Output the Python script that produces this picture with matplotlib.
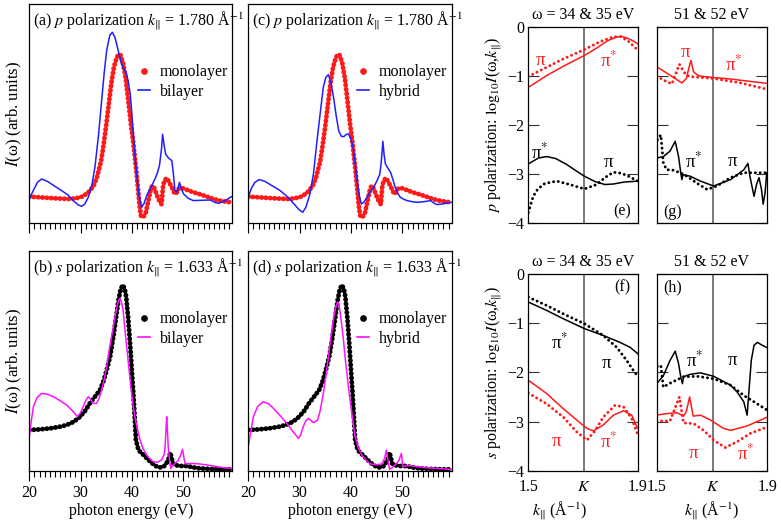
import numpy as np
import matplotlib
matplotlib.use('Agg')
import matplotlib.pyplot as plt
from matplotlib.lines import Line2D
from matplotlib.ticker import MultipleLocator

plt.rcParams['font.family'] = ['Liberation Serif', 'DejaVu Serif']
plt.rcParams['mathtext.fontset'] = 'stix'
plt.rcParams['axes.linewidth'] = 0.9

# ---- spectra, I(omega) in arb. units vs photon energy (eV) ----
mono_p = np.array([(20, 26.7), (22, 26), (24, 25.3), (26, 24.7), (28, 24.3), (29.5, 25.5), (30.5, 27),
                   (31.5, 31), (32.5, 37), (33.2, 46), (34, 62), (34.5, 79), (35, 98), (35.5, 119),
                   (36, 140), (36.5, 156), (37, 165), (37.4, 169), (37.8, 168), (38.3, 160), (38.8, 145),
                   (39.3, 123), (39.8, 100), (40.3, 80), (40.8, 56), (41.2, 35), (41.5, 18), (41.8, 7),
                   (42.2, 6), (42.7, 10), (43.2, 22), (43.7, 34), (44.0, 37.7), (44.4, 35), (44.9, 28),
                   (45.4, 22), (45.8, 19), (46.1, 38), (46.4, 43), (46.8, 45.3), (47.2, 42), (47.8, 36),
                   (48.4, 29.3), (48.8, 31), (49.2, 35), (50, 35), (51, 33), (52, 31), (53.3, 29),
                   (54.5, 27), (55.9, 24.3), (57.2, 22.7), (58.5, 21.5), (59.6, 21)])

bilayer_p = np.array([(20, 24.3), (20.8, 33), (21.6, 41), (22.4, 44.3), (23.5, 42), (25, 37), (26.5, 32),
                      (27.5, 28.5), (28.5, 23), (29.5, 18.5), (30.2, 17), (30.8, 19), (31.5, 26),
                      (32.2, 38), (32.8, 56), (33.5, 88), (34.1, 122), (34.6, 150), (35.1, 173),
                      (35.7, 188), (36.2, 191), (36.7, 186), (37.1, 178), (37.6, 167), (38.0, 159),
                      (38.5, 154), (38.9, 151), (39.3, 142), (39.7, 129), (40.0, 110), (40.3, 89),
                      (40.7, 62), (41.0, 46), (41.4, 28), (41.9, 16), (42.4, 20), (42.9, 27.7),
                      (43.4, 33), (43.9, 37.7), (44.4, 43), (44.9, 49), (45.4, 58), (45.8, 75),
                      (46.0, 89), (46.3, 78), (46.6, 69), (47.2, 65), (47.8, 62.7), (48.1, 50),
                      (48.4, 33), (48.8, 31), (49.3, 41), (49.7, 34), (50.1, 29.3), (51, 25),
                      (52, 22.7), (53.5, 23), (55.3, 23.3), (56.2, 21), (56.9, 20), (58, 22),
                      (59.2, 26), (59.6, 27)])

hybrid_p = np.array([(20, 26), (20.6, 35), (21.3, 41), (22.1, 43.7), (23.2, 42), (24.5, 38), (26.2, 32.7),
                     (27.5, 27), (28.8, 20), (29.8, 14), (30.6, 11), (31.2, 16), (32.0, 29.3), (32.7, 50),
                     (33.3, 79), (34.0, 110), (34.6, 136), (35.1, 146), (35.6, 148.7), (36.1, 140),
                     (36.6, 126), (37.1, 108), (37.6, 92.7), (38.1, 87), (38.6, 86.7), (39.1, 89),
                     (39.5, 89.3), (40.0, 84), (40.4, 76), (40.8, 60), (41.2, 42.7), (41.6, 28),
                     (42.0, 19.3), (42.5, 21), (43.1, 26), (43.7, 31), (44.4, 36), (45.0, 42),
                     (45.6, 49), (45.9, 62), (46.2, 82), (46.45, 68), (46.7, 59.3), (47.2, 55),
                     (47.7, 51), (48.2, 43), (48.6, 36), (49.1, 30), (49.6, 26), (50.3, 24),
                     (50.9, 22.7), (52, 21.5), (52.9, 21), (54, 21.5), (55.5, 22.7), (56.2, 20),
                     (56.8, 18.7), (58, 19.5), (59.6, 21)])

mono_s = np.array([(20, 40.7), (22, 41.3), (24, 42.3), (26, 44), (27.3, 45.7), (28.7, 49), (29.9, 54),
                   (30.9, 60), (31.8, 67.3), (32.8, 74), (33.8, 80.7), (34.5, 90), (35.1, 100.7),
                   (35.8, 115), (36.4, 134), (36.9, 152), (37.4, 170.7), (37.8, 181), (38.2, 185.7),
                   (38.6, 182), (38.9, 174), (39.3, 152), (39.7, 124), (40.0, 100), (40.3, 77.3),
                   (40.6, 50), (40.8, 30.7), (41.3, 20.7), (41.8, 18), (42.3, 15.7), (43.0, 12),
                   (43.6, 9), (44.3, 6), (44.9, 4), (45.5, 3.3), (46.2, 4), (46.7, 7), (47.1, 10.7),
                   (47.5, 18), (47.8, 12), (48.0, 7.3), (48.6, 5.5), (49.4, 4.7), (50.7, 4.7),
                   (52, 3.3), (53.3, 2.3), (55, 1.8), (57, 1.5), (59.6, 1.3)])

bilayer_s = np.array([(20, 34), (20.4, 50), (20.8, 64), (21.5, 73), (22.4, 77.3), (23.5, 76.5), (24.7, 74),
                      (26, 70), (27.3, 65.7), (28.4, 60), (29.4, 54), (30.0, 58), (30.5, 64), (31.0, 70),
                      (31.5, 74), (32.0, 71), (32.4, 67.3), (33.1, 67.3), (33.6, 72), (34.1, 80.7),
                      (34.6, 91), (35.1, 104), (35.7, 124), (36.4, 144), (37.0, 162), (37.4, 170),
                      (37.7, 172.3), (38.0, 168), (38.3, 160.7), (38.6, 144), (39.0, 124), (39.4, 104),
                      (39.8, 84), (40.2, 68), (40.6, 54), (41.1, 41), (41.6, 30.7), (42.2, 22),
                      (42.9, 15.7), (43.5, 12), (44.2, 9), (45.0, 8.5), (45.8, 10.7), (46.3, 16),
                      (46.5, 24), (46.7, 45), (46.8, 54), (46.95, 40), (47.1, 24), (47.4, 8),
                      (47.6, 2.3), (48.0, 5), (48.4, 7.3), (49.0, 10), (49.4, 14), (49.9, 21.3),
                      (50.2, 12), (50.4, 6.7), (51.4, 7.3), (52.5, 7), (53.3, 6.7), (55, 5.5),
                      (56.6, 4), (58, 3), (59.6, 2.3)])

hybrid_s = np.array([(20, 24), (20.5, 40), (21.0, 54), (21.8, 64), (22.9, 69), (23.9, 67), (24.9, 62.3),
                     (26.2, 55), (27.5, 47.3), (28.7, 39), (29.8, 32.3), (30.2, 36), (30.7, 44),
                     (31.2, 50), (31.7, 52.3), (32.2, 50), (32.7, 48), (33.5, 50.7), (34.0, 60),
                     (34.6, 77.3), (35.1, 95), (35.6, 114), (36.1, 134), (36.6, 152.3), (37.0, 163),
                     (37.4, 169), (37.7, 165), (38.0, 154), (38.5, 132), (38.9, 110.7), (39.4, 88),
                     (39.9, 67.3), (40.4, 48), (40.8, 34), (41.4, 23), (42.1, 15.7), (43.0, 10),
                     (43.8, 6.7), (45.0, 6), (46.0, 6.7), (46.5, 12), (46.9, 20.7), (47.2, 10),
                     (47.5, 1.3), (48.0, 3), (48.6, 5.7), (49.3, 10), (49.8, 17.3), (50.1, 4),
                     (50.8, 5), (51.6, 5), (52.8, 4), (54.2, 3.3), (56, 2.5), (58, 1.8), (59.6, 1.3)])

# ---- log10 I(omega, k) vs k_par (1/A) ----
K = 1.703
e_red_line = np.array([(1.5, -1.23), (1.567, -0.99), (1.628, -0.80), (1.705, -0.58), (1.75, -0.43),
                       (1.79, -0.28), (1.82, -0.21), (1.841, -0.19), (1.872, -0.25), (1.9, -0.34)])
e_red_dots = np.array([(1.5, -1.01), (1.567, -0.82), (1.628, -0.65), (1.705, -0.46), (1.762, -0.30),
                       (1.805, -0.21), (1.835, -0.19), (1.866, -0.29), (1.9, -0.47)])
e_blk_line = np.array([(1.5, -2.79), (1.537, -2.67), (1.567, -2.64), (1.6, -2.68), (1.64, -2.80),
                       (1.68, -2.95), (1.705, -3.04), (1.744, -3.15), (1.78, -3.21), (1.81, -3.20),
                       (1.85, -3.16), (1.9, -3.14)])
e_blk_dots = np.array([(1.5, -3.78), (1.518, -3.45), (1.535, -3.30), (1.56, -3.19), (1.604, -3.14),
                       (1.652, -3.21), (1.705, -3.30), (1.75, -3.21), (1.78, -3.07), (1.811, -2.96),
                       (1.84, -2.98), (1.87, -3.05), (1.9, -3.14)])

g_red_line = np.array([(1.5, -0.81), (1.548, -0.98), (1.591, -1.14), (1.607, -1.05), (1.618, -0.80),
                       (1.624, -0.68), (1.633, -0.91), (1.645, -0.97), (1.658, -1.0), (1.706, -1.03),
                       (1.767, -1.06), (1.9, -1.15)])
g_red_dots = np.array([(1.5, -1.0), (1.524, -1.08), (1.555, -1.16), (1.582, -0.76), (1.595, -0.88),
                       (1.605, -0.97), (1.62, -1.01), (1.706, -1.05), (1.803, -1.14), (1.9, -1.27)])
g_blk_line = np.array([(1.5, -2.67), (1.524, -2.64), (1.548, -2.53), (1.567, -2.33), (1.579, -2.64),
                       (1.587, -2.97), (1.591, -3.11), (1.595, -3.01), (1.621, -3.04), (1.658, -3.14),
                       (1.706, -3.24), (1.767, -3.11), (1.815, -2.91), (1.830, -2.78), (1.837, -3.04),
                       (1.852, -3.45), (1.861, -3.21), (1.870, -3.07), (1.879, -3.31), (1.885, -3.61),
                       (1.892, -3.38), (1.898, -2.97), (1.9, -2.97)])
g_blk_dots = np.array([(1.502, -2.30), (1.515, -2.20), (1.524, -2.77), (1.536, -2.91), (1.555, -2.91),
                       (1.585, -2.97), (1.609, -3.04), (1.645, -3.18), (1.682, -3.31), (1.718, -3.24),
                       (1.767, -3.07), (1.815, -2.97), (1.9, -2.97)])

f_blk_line = np.array([(1.5, -0.57), (1.567, -0.74), (1.628, -0.91), (1.705, -1.11), (1.774, -1.25),
                       (1.835, -1.39), (1.872, -1.49), (1.9, -1.62)])
f_blk_dots = np.array([(1.5, -0.47), (1.567, -0.64), (1.628, -0.81), (1.705, -1.01), (1.774, -1.25),
                       (1.823, -1.49), (1.860, -1.76), (1.884, -1.96), (1.9, -2.08)])
f_red_line = np.array([(1.5, -2.16), (1.567, -2.43), (1.628, -2.74), (1.677, -2.97), (1.714, -3.14),
                       (1.738, -3.19), (1.774, -3.07), (1.811, -2.87), (1.848, -2.78), (1.878, -2.87),
                       (1.9, -3.14)])
f_red_dots = np.array([(1.5, -2.42), (1.567, -2.64), (1.628, -2.91), (1.677, -3.21), (1.714, -3.38),
                       (1.744, -3.19), (1.774, -2.91), (1.817, -2.67), (1.848, -2.70), (1.878, -2.94),
                       (1.9, -3.26)])

h_blk_line = np.array([(1.5, -2.23), (1.524, -2.07), (1.548, -1.76), (1.567, -1.57), (1.579, -1.82),
                       (1.587, -2.09), (1.593, -2.23), (1.597, -2.09), (1.621, -2.04), (1.658, -2.01),
                       (1.706, -2.08), (1.767, -2.26), (1.791, -2.40), (1.815, -2.60), (1.827, -2.87),
                       (1.833, -2.43), (1.842, -1.76), (1.852, -1.45), (1.864, -1.39), (1.882, -1.45),
                       (1.9, -1.50)])
h_blk_dots = np.array([(1.502, -1.88), (1.515, -1.86), (1.524, -2.30), (1.555, -2.20), (1.597, -2.09),
                       (1.645, -2.08), (1.706, -2.13), (1.767, -2.26), (1.815, -2.47), (1.852, -2.60),
                       (1.9, -2.77)])
h_red_line = np.array([(1.5, -2.87), (1.536, -2.84), (1.573, -2.82), (1.597, -2.89), (1.607, -2.80),
                       (1.619, -2.50), (1.632, -2.89), (1.658, -2.87), (1.694, -2.97), (1.742, -3.14),
                       (1.767, -3.18), (1.827, -3.09), (1.9, -2.91)])
h_red_dots = np.array([(1.5, -2.99), (1.548, -2.99), (1.582, -2.50), (1.597, -3.03), (1.633, -3.04),
                       (1.670, -3.18), (1.706, -3.38), (1.748, -3.53), (1.791, -3.41), (1.839, -3.24),
                       (1.9, -3.11)])

RED = '#ff1a1a'
BLUE = '#1f1fff'
MAG = '#ff10ff'
FS = 11.5

W, H = 781, 528
fig = plt.figure(figsize=(W / 100, H / 100), dpi=100)


def box(x0, y0, x1, y1):
    return [x0 / W, (H - y1) / H, (x1 - x0) / W, (y1 - y0) / H]


ax_a = fig.add_axes(box(29.3, 4, 232.3, 223.3))
ax_b = fig.add_axes(box(29.3, 251, 232.3, 470.7))
ax_c = fig.add_axes(box(248.3, 4, 451.7, 223.3))
ax_d = fig.add_axes(box(248.3, 251, 451.7, 470.7))
ax_e = fig.add_axes(box(528.3, 27, 637.7, 223.3))
ax_f = fig.add_axes(box(528.3, 274, 637.7, 470.7))
ax_g = fig.add_axes(box(656.7, 27, 767.3, 223.3))
ax_h = fig.add_axes(box(656.7, 274, 767.3, 470.7))


def mono_dots(ax, data, color):
    ax.plot(data[:, 0], data[:, 1], color=color, lw=3.5, ls=(0, (0.05, 0.85)),
            dash_capstyle='round')


def energy_panel(ax, label, mono, mono_col, other, other_col, other_name, ytop, bottom):
    mono_dots(ax, mono, mono_col)
    ax.plot(other[:, 0], other[:, 1], color=other_col, lw=1.1)
    ax.set_xlim(20, 59.6)
    ax.set_ylim(0, ytop)
    ax.set_yticks([])
    ax.set_xticks([20, 30, 40, 50])
    ax.xaxis.set_minor_locator(MultipleLocator(1))
    ax.tick_params(axis='x', which='major', direction='out', length=7, width=0.8, labelsize=FS, pad=3)
    ax.tick_params(axis='x', which='minor', direction='out', length=4.5, width=0.8)
    if bottom:
        ax.set_xlabel('photon energy (eV)', fontsize=FS, labelpad=2)
    else:
        ax.set_xticklabels([])
    ax.text(0.018, 0.925, label, transform=ax.transAxes, fontsize=FS, va='center', ha='left')
    handles = [Line2D([], [], color=mono_col, marker='o', ms=3.8, ls='none'),
               Line2D([], [], color=other_col, lw=1.2)]
    ax.legend(handles, ['monolayer', other_name], frameon=False, loc='upper left',
              bbox_to_anchor=(0.535, 0.725), fontsize=FS, handlelength=0.75, handletextpad=0.6,
              labelspacing=0.2, borderpad=0, borderaxespad=0)


energy_panel(ax_a, r'(a) $p$ polarization $k_{\|}$ = 1.780 Å$^{-1}$', mono_p, RED,
             bilayer_p, BLUE, 'bilayer', 219.3, False)
energy_panel(ax_c, r'(c) $p$ polarization $k_{\|}$ = 1.780 Å$^{-1}$', mono_p, RED,
             hybrid_p, BLUE, 'hybrid', 219.3, False)
energy_panel(ax_b, r'(b) $s$ polarization $k_{\|}$ = 1.633 Å$^{-1}$', mono_s, 'black',
             bilayer_s, MAG, 'bilayer', 219.7, True)
energy_panel(ax_d, r'(d) $s$ polarization $k_{\|}$ = 1.633 Å$^{-1}$', mono_s, 'black',
             hybrid_s, MAG, 'hybrid', 219.7, True)
for ax in (ax_a, ax_b):
    ax.set_ylabel(r'$I$(ω) (arb. units)', fontsize=FS + 0.5, labelpad=4)


def k_panel(ax, curves, tag, tag_xy, left, bottom):
    ax.axvline(K, color='#555555', lw=1.1, zorder=1)
    for data, col, dotted in curves:
        if dotted:
            ax.plot(data[:, 0], data[:, 1], color=col, lw=2.1, ls=(0, (0.05, 1.6)),
                    dash_capstyle='round')
        else:
            ax.plot(data[:, 0], data[:, 1], color=col, lw=1.1)
    ax.set_xlim(1.5, 1.9)
    ax.set_ylim(-4, 0)
    ax.set_yticks([0, -1, -2, -3, -4])
    ax.tick_params(axis='y', direction='in', length=8, width=0.8, left=True, right=True,
                   labelsize=FS, pad=3, color='#333333')
    ax.set_xticks([1.5, K, 1.9])
    ax.set_xticklabels(['1.5', '$K$', '1.9'])
    ax.tick_params(axis='x', length=0, labelsize=FS, pad=6)
    if not left:
        ax.set_yticklabels([])
    if not bottom:
        ax.set_xticklabels([])
    ax.text(tag_xy[0], tag_xy[1], tag, transform=ax.transAxes, fontsize=FS,
            ha='center', va='center')


def pi_label(ax, x, y, star, color):
    txt = 'π$^{*}$' if star else 'π'
    ax.text(x, y, txt, color=color, fontsize=FS + 2, ha='center', va='center')


k_panel(ax_e, [(e_red_line, RED, False), (e_red_dots, RED, True),
               (e_blk_line, 'black', False), (e_blk_dots, 'black', True)],
        '(e)', (0.86, 0.06), True, False)
k_panel(ax_g, [(g_red_line, RED, False), (g_red_dots, RED, True),
               (g_blk_line, 'black', False), (g_blk_dots, 'black', True)],
        '(g)', (0.14, 0.06), False, False)
k_panel(ax_f, [(f_blk_line, 'black', False), (f_blk_dots, 'black', True),
               (f_red_line, RED, False), (f_red_dots, RED, True)],
        '(f)', (0.86, 0.93), True, True)
k_panel(ax_h, [(h_blk_line, 'black', False), (h_blk_dots, 'black', True),
               (h_red_line, RED, False), (h_red_dots, RED, True)],
        '(h)', (0.14, 0.93), False, True)

pi_label(ax_e, 1.543, -0.68, False, RED)
pi_label(ax_e, 1.793, -0.68, True, RED)
pi_label(ax_e, 1.543, -2.57, True, 'black')
pi_label(ax_e, 1.793, -2.77, False, 'black')
pi_label(ax_g, 1.603, -0.51, False, RED)
pi_label(ax_g, 1.779, -0.78, True, RED)
pi_label(ax_g, 1.633, -2.74, True, 'black')
pi_label(ax_g, 1.773, -2.74, False, 'black')
pi_label(ax_f, 1.616, -1.39, True, 'black')
pi_label(ax_f, 1.787, -1.82, False, 'black')
pi_label(ax_f, 1.604, -3.41, False, RED)
pi_label(ax_f, 1.793, -3.41, True, RED)
pi_label(ax_h, 1.639, -1.76, True, 'black')
pi_label(ax_h, 1.773, -1.76, False, 'black')
pi_label(ax_h, 1.633, -3.65, False, RED)
pi_label(ax_h, 1.821, -3.65, True, RED)

for ax in (ax_e, ax_f):
    ax.set_title('ω = 34 & 35 eV', fontsize=FS, pad=6)
for ax in (ax_g, ax_h):
    ax.set_title('51 & 52 eV', fontsize=FS, pad=6)

ax_e.set_ylabel(r'$p$ polarization: $\mathrm{log}_{10}I$(ω,$k_{\|}$)', fontsize=FS, labelpad=2)
ax_f.set_ylabel(r'$s$ polarization: $\mathrm{log}_{10}I$(ω,$k_{\|}$)', fontsize=FS, labelpad=2)
for ax in (ax_f, ax_h):
    ax.set_xlabel(r'$k_{\|}$ (Å$^{-1}$)', fontsize=FS, labelpad=3)
ax_f.xaxis.label.set_x(0.29)

fig.savefig('out.png', dpi=100)
